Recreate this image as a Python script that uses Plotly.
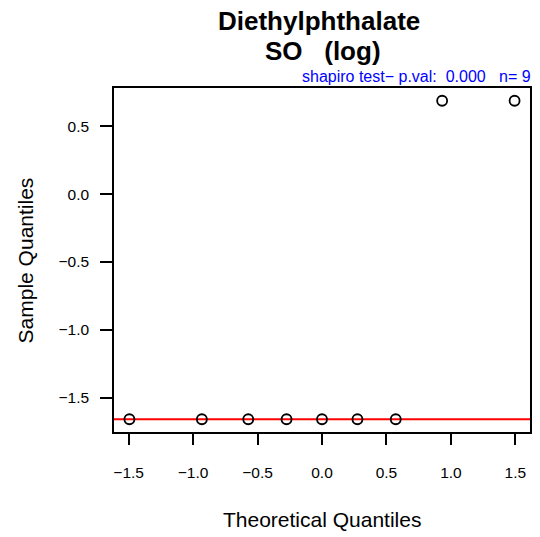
import plotly.graph_objects as go

theoretical = [-1.494, -0.932, -0.572, -0.275, 0.0, 0.275, 0.572, 0.932, 1.494]
sample = [-1.66, -1.66, -1.66, -1.66, -1.66, -1.66, -1.66, 0.69, 0.69]
qqline_y = -1.66
x_ticks = [-1.5, -1.0, -0.5, 0.0, 0.5, 1.0, 1.5]
y_ticks = [0.5, 0.0, -0.5, -1.0, -1.5]
title_lines = ["Diethylphthalate", "SO   (log)"]
subtitle = "shapiro test\u2212 p.val:  0.000   n= 9"
x_title = "Theoretical Quantiles"
y_title = "Sample Quantiles"

FONT = "Liberation Sans"
W, H = 540, 537
L, R, T, B = 114, 8, 88, 105
PW, PH = W - L - R, H - T - B

def fmt(v):
    return f"{v:.1f}".replace("-", "\u2212")

def px_x(xpix):
    return (xpix - L) / PW

def px_y(ypix):
    return (H - B - ypix) / PH

fig = go.Figure()
fig.add_trace(go.Scatter(
    x=[-1.62, 1.62], y=[qqline_y, qqline_y], mode="lines",
    line=dict(color="#ff0000", width=2), showlegend=False, hoverinfo="skip"))
fig.add_trace(go.Scatter(
    x=theoretical, y=sample, mode="markers",
    marker=dict(symbol="circle-open", size=10, color="black", line=dict(width=1.8)),
    showlegend=False))

xmin, xmax = min(theoretical), max(theoretical)
ymin, ymax = min(sample), max(sample)
padx = 0.04 * (xmax - xmin)
pady = 0.04 * (ymax - ymin)

fig.update_layout(
    width=W, height=H,
    margin=dict(l=L, r=R, t=T, b=B),
    plot_bgcolor="white", paper_bgcolor="white",
    font=dict(family=FONT, color="black"),
    xaxis=dict(range=[xmin - padx, xmax + padx], tickvals=x_ticks,
               ticktext=[fmt(v) for v in x_ticks], ticks="outside", ticklen=11,
               tickwidth=1.5, tickcolor="black", showgrid=False, zeroline=False,
               showline=True, linecolor="black", linewidth=1.5, mirror=True,
               tickfont=dict(size=15.5, family=FONT), ticklabelstandoff=15),
    yaxis=dict(range=[ymin - pady, ymax + pady], tickvals=y_ticks,
               ticktext=[fmt(v) for v in y_ticks], ticks="outside", ticklen=12,
               tickwidth=1.5, tickcolor="black", showgrid=False, zeroline=False,
               showline=True, linecolor="black", linewidth=1.5, mirror=True,
               tickfont=dict(size=15.5, family=FONT), ticklabelstandoff=8),
    annotations=[
        dict(text="<b>%s</b>" % title_lines[0], x=px_x(320), y=px_y(21),
             xref="paper", yref="paper", yanchor="middle",
             showarrow=False, font=dict(size=26, family=FONT)),
        dict(text="<b>%s</b>" % title_lines[1], x=px_x(324), y=px_y(51),
             xref="paper", yref="paper", yanchor="middle",
             showarrow=False, font=dict(size=26, family=FONT)),
        dict(text=subtitle, x=1, y=px_y(77), xref="paper", yref="paper", xanchor="right",
             yanchor="middle", xshift=3, showarrow=False,
             font=dict(size=16, family=FONT, color="#0000ff")),
        dict(text=x_title, x=px_x(323), y=px_y(519), xref="paper", yref="paper",
             yanchor="middle", showarrow=False, font=dict(size=21, family=FONT)),
        dict(text=y_title, x=px_x(25), y=px_y(260), xref="paper", yref="paper",
             xanchor="center", yanchor="middle", textangle=-90, showarrow=False,
             font=dict(size=21, family=FONT)),
    ],
)

fig.write_html("out.html", config={"displayModeBar": False},
               post_script="document.body.style.margin='0px';")
